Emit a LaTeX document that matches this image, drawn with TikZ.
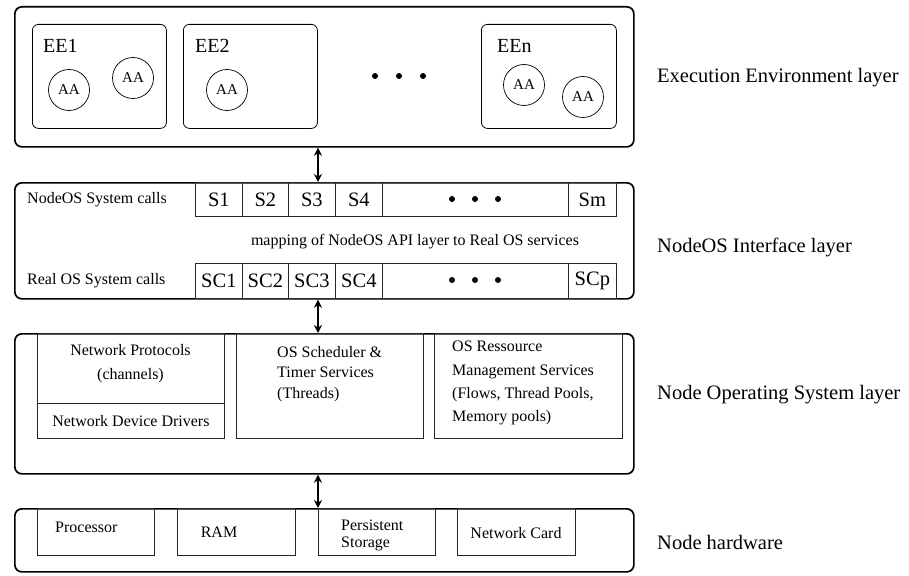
\documentclass[tikz,border=0pt]{standalone}
\usepackage{fontspec}
\setmainfont{Liberation Serif}
\usetikzlibrary{arrows.meta}
\tikzset{
  layer/.style={draw, line width=1.7pt, rounded corners=7pt, inner sep=0pt, anchor=north west},
  eebox/.style={draw, line width=0.8pt, rounded corners=6pt, inner sep=0pt, anchor=north west, minimum width=134pt, minimum height=104pt},
  cell/.style={draw=black!85, line width=0.8pt, inner sep=0pt, anchor=north west, minimum height=34pt},
  ibox/.style={draw=black!85, line width=0.8pt, inner sep=0pt, anchor=north west},
  aa/.style={draw, circle, line width=0.7pt, minimum size=41pt, inner sep=0pt, font=\fontsize{15}{18}\selectfont},
  bigdot/.style={fill, circle, inner sep=0pt, minimum size=6pt},
  biglabel/.style={anchor=west, inner sep=0pt, font=\fontsize{20.5}{24}\selectfont},
  eelabel/.style={anchor=base west, inner sep=0pt, font=\fontsize{20}{24}\selectfont},
  celltext/.style={font=\fontsize{20.5}{24}\selectfont},
  small/.style={inner sep=0pt, font=\fontsize{16}{23}\selectfont},
  dbl/.style={{Stealth[length=8pt,width=8pt]}-{Stealth[length=8pt,width=8pt]}, line width=1.5pt}
}
\begin{document}
\begin{tikzpicture}[x=1pt,y=-1pt]
\useasboundingbox (0,0) rectangle (909,575);
% ---------- Execution Environment layer ----------
\node[layer, minimum width=619pt, minimum height=140pt] (L1) at (14,6) {};
\node[eebox] (EE1) at (32,24) {};
\node[eebox] (EE2) at (183,24) {};
\node[eebox, minimum width=135pt] (EEn) at (481,24) {};
\node[eelabel] (t1) at (43,53) {EE1};
\node[eelabel] (t2) at (195,53) {EE2};
\node[eelabel] (tn) at (497,53) {EEn};
\node[aa] (a1) at (69,90) {AA};
\node[aa] (a2) at (133,78) {AA};
\node[aa] (a3) at (227,90) {AA};
\node[aa] (a4) at (524,85) {AA};
\node[aa] (a5) at (583,97) {AA};
\node[bigdot] (d1) at (375,76) {};
\node[bigdot] (d2) at (399,76) {};
\node[bigdot] (d3) at (423,76) {};
% ---------- NodeOS Interface layer ----------
\node[layer, minimum width=619pt, minimum height=116pt] (L2) at (14,182) {};
\node[cell, minimum width=47pt] (S1) at (195,182) {};
\node[cell, minimum width=46pt] (S2) at (242,182) {};
\node[cell, minimum width=47pt] (S3) at (288,182) {};
\node[cell, minimum width=47pt] (S4) at (335,182) {};
\node[cell, minimum width=186pt] (Sd) at (382,182) {};
\node[cell, minimum width=48pt] (Sm) at (568,182) {};
\node[celltext] at (S1.center) {S1};
\node[celltext] at (S2.center) {S2};
\node[celltext] at (S3.center) {S3};
\node[celltext] at (S4.center) {S4};
\node[celltext] at (Sm.center) {Sm};
\node[cell, minimum width=47pt, minimum height=35pt] (SC1) at (195,263) {};
\node[cell, minimum width=46pt, minimum height=35pt] (SC2) at (242,263) {};
\node[cell, minimum width=47pt, minimum height=35pt] (SC3) at (288,263) {};
\node[cell, minimum width=47pt, minimum height=35pt] (SC4) at (335,263) {};
\node[cell, minimum width=186pt, minimum height=35pt] (SCd) at (382,263) {};
\node[cell, minimum width=48pt, minimum height=35pt] (SCp) at (568,263) {};
\node[celltext] at (SC1.center) {SC1};
\node[celltext] at (SC2.center) {SC2};
\node[celltext] at (SC3.center) {SC3};
\node[celltext] at (SC4.center) {SC4};
\node[celltext] at (SCp.center) {SCp};
\node[bigdot] (e1) at (452,199) {};
\node[bigdot] (e2) at (475,199) {};
\node[bigdot] (e3) at (498,199) {};
\node[bigdot] (f1) at (452,280) {};
\node[bigdot] (f2) at (475,280) {};
\node[bigdot] (f3) at (498,280) {};
\node[small, anchor=west] (nsc) at (27,200) {NodeOS System calls};
\node[small, anchor=west] (rsc) at (27,281) {Real OS System calls};
\node[small] (map) at (415,242) {mapping of NodeOS API layer to Real OS services};
% ---------- Node Operating System layer ----------
\node[layer, minimum width=619pt, minimum height=140pt] (L3) at (14,333) {};
\node[ibox, minimum width=187pt, minimum height=70pt] (NP) at (37,333) {};
\node[ibox, minimum width=187pt, minimum height=35pt] (NDD) at (37,403) {};
\node[ibox, minimum width=187pt, minimum height=105pt] (SCH) at (236,333) {};
\node[ibox, minimum width=188pt, minimum height=105pt] (RES) at (434,333) {};
\node[small, align=center] (npt) at (130.5,363.5) {Network Protocols\\[1pt](channels)};
\node[small] (nddt) at (NDD.center) {Network Device Drivers};
\node[small, anchor=north west, align=left, font=\fontsize{16}{20.5}\selectfont] (scht) at (277,346) {OS Scheduler \&\\Timer Services\\(Threads)};
\node[small, anchor=north west, align=left, font=\fontsize{16}{23.3}\selectfont] (rest) at (452,341) {OS Ressource\\Management Services\\(Flows, Thread Pools,\\Memory pools)};
% ---------- Node hardware ----------
\node[layer, minimum width=619pt, minimum height=63pt] (L4) at (14,508) {};
\node[ibox, minimum width=117pt, minimum height=47pt] (P) at (37,508) {};
\node[ibox, minimum width=118pt, minimum height=47pt] (R) at (177,508) {};
\node[ibox, minimum width=117pt, minimum height=47pt] (PS) at (318,508) {};
\node[ibox, minimum width=118pt, minimum height=47pt] (NC) at (457,508) {};
\node[small, anchor=west] (pt) at (55,527) {Processor};
\node[small] (rt) at (219,532) {RAM};
\node[small, anchor=north west, align=left, font=\fontsize{16}{16.5}\selectfont] (pst) at (341,520) {Persistent\\Storage};
\node[small] (nct) at (516,533) {Network Card};
% ---------- right labels ----------
\node[biglabel] (lab1) at (657,78) {Execution Environment layer};
\node[biglabel] (lab2) at (657,247) {NodeOS Interface layer};
\node[biglabel] (lab3) at (657,395) {Node Operating System layer};
\node[biglabel] (lab4) at (657,542) {Node hardware};
% ---------- arrows ----------
\coordinate (ax) at (318,0);
\draw[dbl] (L1.south -| ax) -- (L2.north -| ax);
\draw[dbl] (L2.south -| ax) -- (L3.north -| ax);
\draw[dbl] (L3.south -| ax) -- (L4.north -| ax);
\end{tikzpicture}
\end{document}
